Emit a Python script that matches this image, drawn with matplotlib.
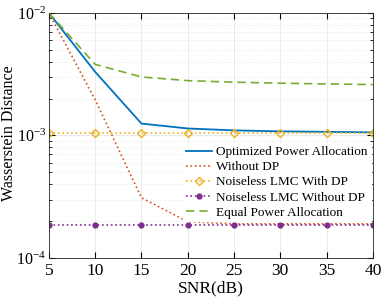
import numpy as np
import matplotlib
matplotlib.use("Agg")
import matplotlib.pyplot as plt

plt.rcParams['font.family'] = ['Liberation Serif', 'DejaVu Serif']
plt.rcParams['mathtext.fontset'] = 'custom'
plt.rcParams['mathtext.rm'] = 'Liberation Serif'
plt.rcParams['mathtext.it'] = 'Liberation Serif:italic'

# ---- data ----
snr = [5, 10, 15, 20, 25, 30, 35, 40]
opt_power = [1.0e-2, 3.3e-3, 1.25e-3, 1.14e-3, 1.10e-3, 1.08e-3, 1.07e-3, 1.06e-3]
without_dp = [1.0e-2, 1.95e-3, 3.1e-4, 1.98e-4, 1.9e-4, 1.9e-4, 1.9e-4, 1.9e-4]
lmc_dp = [1.04e-3, 1.04e-3, 1.04e-3, 1.04e-3, 1.04e-3, 1.04e-3, 1.04e-3, 1.04e-3]
lmc_nodp = [1.85e-4, 1.85e-4, 1.85e-4, 1.85e-4, 1.85e-4, 1.85e-4, 1.85e-4, 1.85e-4]
equal_power = [1.0e-2, 3.8e-3, 3.0e-3, 2.8e-3, 2.72e-3, 2.67e-3, 2.63e-3, 2.6e-3]

fig = plt.figure(figsize=(3.82, 2.99), dpi=100)
ax = fig.add_axes([0.128, 0.137, 0.848, 0.82])

ax.semilogy(snr, opt_power, color='#0072BD', lw=1.3, label='Optimized Power Allocation')
ax.semilogy(snr, without_dp, color='#D95319', lw=1.2, ls=':', label='Without DP')
ax.semilogy(snr, lmc_dp, color='#EDB120', lw=1.2, ls=':', marker='D', ms=4.5,
            mfc='none', mec='#EDB120', mew=1.0, label='Noiseless LMC With DP')
ax.semilogy(snr, lmc_nodp, color='#7E2F8E', lw=1.2, ls=':', marker='o', ms=3.5,
            mfc='#7E2F8E', label='Noiseless LMC Without DP')
ax.semilogy(snr, equal_power, color='#77AC30', lw=1.2, ls=(0, (5, 3)), label='Equal Power Allocation')

ax.set_xlim(5, 40)
ax.set_ylim(1e-4, 1e-2)
ax.set_xticks(snr)
ax.set_xlabel('SNR(dB)', fontsize=12.5, labelpad=1)
ax.set_ylabel('Wasserstein Distance', fontsize=11.5)
ax.yaxis.set_label_coords(-0.1, 0.51)
ax.tick_params(axis='both', which='both', direction='in', top=True, right=True, labelsize=12.5)
ax.tick_params(axis='y', which='major', pad=2, labelsize=11.5)
ax.tick_params(which='major', length=4)
ax.tick_params(which='minor', length=2)
ax.grid(True, which='major', color='#e6e6e6', lw=0.6)
ax.grid(True, which='minor', axis='y', color='#e6e6e6', lw=0.6, ls=':')
for s in ax.spines.values():
    s.set_linewidth(0.6)
    s.set_color('#262626')

leg = ax.legend(loc='upper left', bbox_to_anchor=(0.395, 0.495), fontsize=9.5,
                frameon=True, fancybox=False, edgecolor='white', framealpha=1,
                handlelength=2.0, handletextpad=0.3, borderpad=0.2, labelspacing=0.22)

fig.savefig('out.png', dpi=100)
